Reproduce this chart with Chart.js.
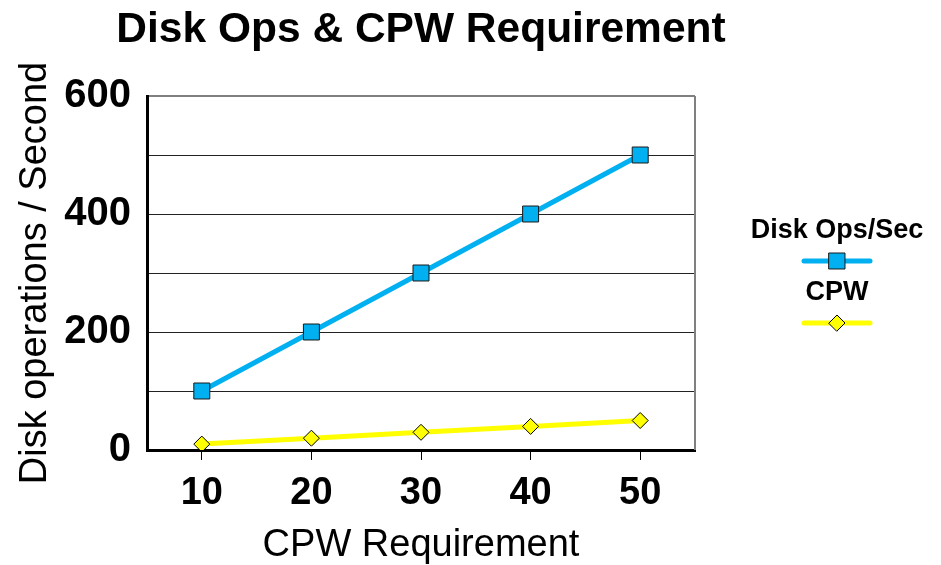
<!DOCTYPE html>
<html lang="en">
  <head>
    <meta charset="UTF-8" />
    <title>Disk Ops &amp; CPW Requirement</title>
    <script src="https://cdn.jsdelivr.net/npm/chart.js"></script>
    <style>
      html, body { margin: 0; padding: 0; background: #fff; }
      #wrap { width: 941px; height: 565px; }
    </style>
  </head>
  <body>
    <div id="wrap"><canvas id="chart"></canvas></div>

    <script>
      // Data
      const cpwLabels = ["10", "20", "30", "40", "50"];
      const diskOps = [100, 200, 300, 400, 500];
      const cpwValues = [10, 20, 30, 40, 50];
      const yTickLabels = ["0", "200", "400", "600"];

      const FONT = '"Liberation Sans", Arial, sans-serif';

      // Frame (right grey line) and stacked legend on the right
      const framePlugin = {
        id: "frame",
        afterDraw(chart) {
          const { ctx, chartArea: a } = chart;
          ctx.save();
          ctx.strokeStyle = "#808080";
          ctx.lineWidth = 2;
          ctx.beginPath();
          ctx.moveTo(a.right, a.top);
          ctx.lineTo(a.right, a.bottom);
          ctx.stroke();

          // legend: label above its line sample
          const cx = a.right + 142;
          let y = a.top + 135;
          ctx.textAlign = "center";
          ctx.textBaseline = "middle";
          chart.data.datasets.forEach((ds) => {
            ctx.fillStyle = "#000";
            ctx.font = "bold 27px " + FONT;
            ctx.fillText(ds.label, cx, y);
            const ly = y + 30;
            ctx.strokeStyle = ds.borderColor;
            ctx.lineWidth = ds.borderWidth;
            ctx.lineCap = "round";
            ctx.beginPath();
            ctx.moveTo(cx - 33, ly);
            ctx.lineTo(cx + 33, ly);
            ctx.stroke();
            ctx.fillStyle = ds.pointBackgroundColor;
            ctx.strokeStyle = ds.pointBorderColor;
            ctx.lineWidth = 1;
            ctx.beginPath();
            if (ds.pointStyle === "rect") {
              const s = ds.pointRadius * Math.SQRT1_2;
              ctx.rect(cx - s, ly - s, 2 * s, 2 * s);
            } else {
              const r = ds.pointRadius;
              ctx.moveTo(cx - r, ly);
              ctx.lineTo(cx, ly - r);
              ctx.lineTo(cx + r, ly);
              ctx.lineTo(cx, ly + r);
              ctx.closePath();
            }
            ctx.fill();
            ctx.stroke();
            y += 62;
          });
          ctx.restore();
        },
      };

      new Chart(document.getElementById("chart"), {
        type: "line",
        data: {
          labels: cpwLabels,
          datasets: [
            {
              label: "Disk Ops/Sec",
              data: diskOps,
              borderColor: "#00B0F0",
              backgroundColor: "#00B0F0",
              borderWidth: 5,
              pointStyle: "rect",
              pointRadius: 11.3,
              pointBackgroundColor: "#00B0F0",
              pointBorderColor: "#1a1a1a",
              pointBorderWidth: 1,
              tension: 0,
            },
            {
              label: "CPW",
              data: cpwValues,
              borderColor: "#FFFF00",
              backgroundColor: "#FFFF00",
              borderWidth: 5,
              pointStyle: "rectRot",
              pointRadius: 8,
              pointBackgroundColor: "#FFFF00",
              pointBorderColor: "#000000",
              pointBorderWidth: 1,
              tension: 0,
            },
          ],
        },
        options: {
          responsive: true,
          maintainAspectRatio: false,
          animation: false,
          layout: { padding: { left: 0, right: 99, top: 0, bottom: 0 } },
          plugins: {
            legend: { display: false },
            tooltip: { enabled: false },
            title: {
              display: true,
              text: "Disk Ops & CPW Requirement",
              color: "#000",
              font: { family: FONT, size: 42.5, weight: "bold" },
              padding: { top: 5, bottom: 40 },
            },
          },
          scales: {
            x: {
              offset: true,
              afterFit(scale) {
                scale.height = 115;
              },
              grid: {
                offset: false,
                drawOnChartArea: false,
                drawTicks: true,
                tickLength: 10,
                color: "#000",
              },
              border: { display: true, color: "#000", width: 3 },
              ticks: {
                color: "#000",
                padding: 11,
                font: { family: FONT, size: 38, weight: "bold" },
              },
              title: {
                display: true,
                text: "CPW Requirement",
                color: "#000",
                font: { family: FONT, size: 38, lineHeight: 1.0 },
                padding: { top: 0, bottom: 0 },
              },
            },
            y: {
              min: 0,
              max: 600,
              afterFit(scale) {
                scale.width = 147;
              },
              grid: {
                drawTicks: false,
                color: (c) => (c.tick && c.tick.value === 600 ? "#808080" : "#222"),
                lineWidth: (c) => (c.tick && c.tick.value === 600 ? 2 : 1),
              },
              border: { display: true, color: "#000", width: 3 },
              ticks: {
                stepSize: 100,
                color: "#000",
                padding: 16,
                font: { family: FONT, size: 40, weight: "bold" },
                callback: (v) => (yTickLabels.includes(String(v)) ? String(v) : ""),
              },
              title: {
                display: true,
                text: "Disk operations / Second",
                color: "#000",
                font: { family: FONT, size: 38 },
                padding: { top: 13, bottom: 0 },
              },
            },
            // empty right-hand box that leaves room for the legend
            legendSpace: {
              type: "linear",
              position: "right",
              afterFit(scale) {
                scale.width = 147;
              },
              grid: { display: false },
              border: { display: false },
              ticks: { display: false },
            },
          },
        },
        plugins: [framePlugin],
      });
    </script>
  </body>
</html>
